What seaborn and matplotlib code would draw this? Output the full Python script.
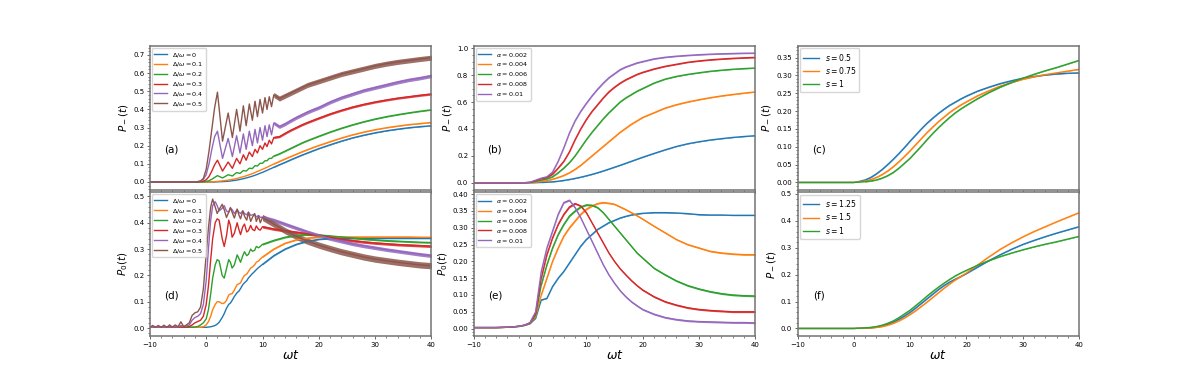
import numpy as np
import seaborn as sns
import matplotlib.pyplot as plt
from matplotlib.ticker import MultipleLocator, AutoMinorLocator

# ---------------- dados ----------------
# painel (a): P_-(t) para varios Delta/omega
t_a = [-10, -6, -3, -2, -1.5, -1, -0.5, 0, 0.5, 1, 1.5,
       2, 2.9, 3.9, 4.65, 5.4, 6.0, 6.6, 7.1, 7.66, 8.2, 8.67, 9.1, 9.56, 10.0, 10.44, 10.8, 11.2, 11.6, 12,
       13, 14, 15, 16, 17, 18, 19, 20,
       22, 24, 26, 28, 30, 32, 34, 36, 38, 40]
pa_00 = [0, 0, 0, 0, 0, 0, 0, 0, 0, 0, 0,
         0.001, 0.002, 0.004, 0.007, 0.01, 0.014, 0.018, 0.022, 0.027, 0.032, 0.037, 0.042, 0.048, 0.053, 0.059, 0.064, 0.07, 0.075, 0.081,
         0.095, 0.108, 0.122, 0.135, 0.148, 0.16, 0.172, 0.184,
         0.205, 0.225, 0.243, 0.258, 0.271, 0.282, 0.291, 0.299, 0.305, 0.31]
pa_01 = [0, 0, 0, 0, 0, 0, 0, 0, 0, 0.001, 0.002,
         0.003, 0.006, 0.01, 0.014, 0.019, 0.024, 0.029, 0.034, 0.04, 0.046, 0.052, 0.058, 0.064, 0.07, 0.076, 0.081, 0.087, 0.093, 0.099,
         0.113, 0.127, 0.14, 0.153, 0.166, 0.178, 0.19, 0.201,
         0.222, 0.242, 0.26, 0.275, 0.288, 0.299, 0.308, 0.316, 0.322, 0.328]
pa_02 = [0, 0, 0, 0, 0, 0, 0.001, 0.003, 0.007, 0.015, 0.025,
         0.035, 0.022, 0.04, 0.033, 0.052, 0.047, 0.063, 0.06, 0.076, 0.074, 0.09, 0.088, 0.103, 0.103, 0.117, 0.117, 0.13, 0.13, 0.143,
         0.155, 0.17, 0.185, 0.2, 0.215, 0.228, 0.24, 0.252,
         0.275, 0.296, 0.315, 0.332, 0.347, 0.36, 0.371, 0.381, 0.39, 0.398]
pa_03 = [0, 0, 0, 0, 0.001, 0.002, 0.005, 0.012, 0.03, 0.06, 0.095,
         0.12, 0.06, 0.11, 0.075, 0.13, 0.1, 0.15, 0.12, 0.165, 0.14, 0.18, 0.16, 0.2, 0.18, 0.215, 0.195, 0.23, 0.21, 0.245,
         0.25, 0.268, 0.285, 0.3, 0.315, 0.328, 0.34, 0.352,
         0.375, 0.395, 0.413, 0.428, 0.441, 0.452, 0.462, 0.47, 0.478, 0.485]
pa_04 = [0, 0, 0, 0.001, 0.002, 0.005, 0.015, 0.04, 0.1, 0.18, 0.25,
         0.28, 0.13, 0.24, 0.14, 0.255, 0.16, 0.265, 0.18, 0.28, 0.2, 0.29, 0.215, 0.3, 0.23, 0.31, 0.25, 0.315, 0.26, 0.325,
         0.305, 0.32, 0.338, 0.355, 0.37, 0.385, 0.398, 0.41,
         0.44, 0.465, 0.485, 0.505, 0.52, 0.535, 0.55, 0.563, 0.573, 0.585]
pa_05 = [0, 0, 0, 0, 0.002, 0.005, 0.02, 0.07, 0.17, 0.29, 0.41,
         0.495, 0.225, 0.38, 0.245, 0.4, 0.28, 0.42, 0.31, 0.43, 0.34, 0.445, 0.36, 0.455, 0.38, 0.465, 0.4, 0.47, 0.415, 0.48,
         0.46, 0.475, 0.49, 0.505, 0.52, 0.535, 0.545, 0.555,
         0.575, 0.595, 0.61, 0.625, 0.64, 0.652, 0.662, 0.67, 0.678, 0.685]
amp_a = [0.002, 0.002, 0.003, 0.006, 0.01, 0.014]   # meia largura da oscilacao rapida (t >= 12)

# painel (d): P_0(t) para varios Delta/omega
t_d = [-10, -9.5, -9, -8.5, -8, -7.5, -7, -6.5, -6, -5.5, -5, -4.5, -4, -3.5, -3, -2.5, -2, -1.5, -1, -0.5, 0,
       0.4, 0.8, 1.15, 1.6, 1.95, 2.3, 2.84, 3.2, 3.6, 4.0, 4.3, 4.6, 5.0, 5.5, 5.8, 6.1, 6.5, 6.8, 7.2, 7.5,
       7.9, 8.2, 8.6, 8.9, 9.3, 9.6, 10,
       12, 14, 16, 18, 20, 22, 24, 26, 28, 30, 32, 34, 36, 38, 40]
pd_00 = [0.003] * 21 + [
    0.004, 0.005, 0.007, 0.01, 0.015, 0.022, 0.04, 0.055, 0.075, 0.09, 0.095, 0.105, 0.12, 0.135, 0.14, 0.15,
    0.165, 0.172, 0.18, 0.19, 0.2, 0.207, 0.215, 0.222, 0.23, 0.235, 0.242,
    0.275, 0.3, 0.318, 0.33, 0.337, 0.34, 0.341, 0.341, 0.341, 0.341, 0.341, 0.341, 0.341, 0.341, 0.341]
pd_01 = [0.003] * 19 + [0.005, 0.012,
    0.025, 0.045, 0.07, 0.09, 0.1, 0.1, 0.093, 0.095, 0.105, 0.125, 0.13, 0.13, 0.145, 0.165, 0.168, 0.172,
    0.19, 0.2, 0.205, 0.215, 0.228, 0.232, 0.24, 0.25, 0.255, 0.262, 0.27,
    0.3, 0.322, 0.335, 0.342, 0.345, 0.346, 0.346, 0.346, 0.346, 0.346, 0.346, 0.346, 0.346, 0.345, 0.345]
pd_02 = [0.003] * 16 + [0.004, 0.006, 0.012, 0.02, 0.035,
    0.07, 0.13, 0.19, 0.24, 0.26, 0.255, 0.2, 0.19, 0.225, 0.26, 0.25, 0.228, 0.24, 0.278, 0.265, 0.25,
    0.275, 0.29, 0.275, 0.28, 0.3, 0.292, 0.295, 0.31, 0.305, 0.31, 0.318,
    0.333, 0.345, 0.352, 0.355, 0.354, 0.35, 0.346, 0.342, 0.338, 0.335, 0.332, 0.33, 0.328, 0.326, 0.325]
pd_03 = [0.003] * 11 + [0.005, 0.003, 0.004, 0.006, 0.012, 0.02, 0.025, 0.03, 0.045, 0.09,
    0.16, 0.26, 0.34, 0.4, 0.415, 0.41, 0.34, 0.31, 0.35, 0.41, 0.39, 0.345, 0.36, 0.4, 0.375, 0.355,
    0.385, 0.395, 0.365, 0.37, 0.39, 0.375, 0.37, 0.388, 0.375, 0.372, 0.385,
    0.376, 0.37, 0.364, 0.358, 0.352, 0.345, 0.338, 0.332, 0.327, 0.323, 0.32, 0.317, 0.315, 0.313, 0.311]
pd_04 = [0.003, 0.004, 0.003, 0.004, 0.003, 0.004, 0.003, 0.005, 0.004, 0.005, 0.004, 0.01, 0.006, 0.008,
         0.012, 0.03, 0.04, 0.045, 0.055, 0.09, 0.18,
         0.3, 0.41, 0.465, 0.48, 0.465, 0.445, 0.455, 0.465, 0.445, 0.44, 0.455, 0.45, 0.435, 0.45, 0.44, 0.435,
         0.445, 0.435, 0.43, 0.44, 0.428, 0.43, 0.432, 0.422, 0.428, 0.42, 0.422,
         0.41, 0.395, 0.38, 0.365, 0.352, 0.34, 0.33, 0.32, 0.312, 0.305, 0.298, 0.292, 0.286, 0.28, 0.275]
pd_05 = [0.003, 0.01, 0.003, 0.01, 0.003, 0.011, 0.003, 0.012, 0.004, 0.012, 0.005, 0.024, 0.006, 0.012,
         0.02, 0.048, 0.058, 0.062, 0.08, 0.15, 0.28,
         0.38, 0.46, 0.49, 0.46, 0.435, 0.45, 0.47, 0.45, 0.42, 0.44, 0.458, 0.44, 0.418, 0.452, 0.43, 0.415,
         0.445, 0.425, 0.41, 0.44, 0.405, 0.42, 0.435, 0.405, 0.425, 0.4, 0.42,
         0.395, 0.37, 0.348, 0.33, 0.315, 0.302, 0.29, 0.28, 0.27, 0.262, 0.256, 0.25, 0.245, 0.24, 0.237]
amp_d = [0.002, 0.002, 0.003, 0.005, 0.007, 0.012]   # t >= 10

lab_delta = [r'$\Delta/\omega=0$', r'$\Delta/\omega=0.1$', r'$\Delta/\omega=0.2$',
             r'$\Delta/\omega=0.3$', r'$\Delta/\omega=0.4$', r'$\Delta/\omega=0.5$']

# paineis (b), (c), (e), (f) usam a mesma grade de tempo
t_bc = [-10, -6, -4, -3, -2, -1,
        0, 1, 2, 3, 4, 5, 6, 7, 8, 9, 10, 11, 12, 13, 14, 15, 16, 17, 18, 19, 20,
        22, 24, 26, 28, 30, 32, 34, 36, 38, 40]

# painel (b): P_-(t) para varios alpha
pb_002 = [0, 0, 0, 0, 0, 0,
          0, 0.001, 0.003, 0.005, 0.008, 0.012, 0.018, 0.025, 0.033, 0.042, 0.052, 0.063, 0.075, 0.088, 0.102,
          0.116, 0.13, 0.145, 0.16, 0.175, 0.19,
          0.218, 0.245, 0.27, 0.29, 0.305, 0.318, 0.328, 0.337, 0.344, 0.35]
pb_004 = [0, 0, 0, 0, 0, 0,
          0.001, 0.004, 0.01, 0.017, 0.027, 0.04, 0.055, 0.075, 0.1, 0.13, 0.165, 0.2, 0.235, 0.27, 0.305,
          0.34, 0.375, 0.405, 0.435, 0.46, 0.485,
          0.52, 0.555, 0.58, 0.6, 0.617, 0.632, 0.645, 0.656, 0.666, 0.675]
pb_006 = [0, 0, 0, 0, 0, 0,
          0.003, 0.01, 0.02, 0.03, 0.045, 0.075, 0.11, 0.15, 0.2, 0.26, 0.32, 0.375, 0.425, 0.475, 0.52,
          0.56, 0.6, 0.63, 0.655, 0.68, 0.7,
          0.74, 0.77, 0.79, 0.805, 0.817, 0.828, 0.836, 0.843, 0.848, 0.852]
pb_008 = [0, 0, 0, 0, 0, 0.001,
          0.004, 0.015, 0.03, 0.04, 0.065, 0.11, 0.16, 0.23, 0.32, 0.4, 0.47, 0.53, 0.58, 0.63, 0.675,
          0.71, 0.74, 0.765, 0.785, 0.805, 0.82,
          0.845, 0.865, 0.88, 0.895, 0.905, 0.913, 0.919, 0.924, 0.928, 0.931]
pb_010 = [0, 0, 0, 0, 0, 0.001,
          0.005, 0.02, 0.035, 0.045, 0.08, 0.16, 0.26, 0.37, 0.46, 0.53, 0.59, 0.645, 0.695, 0.74, 0.78,
          0.81, 0.84, 0.86, 0.875, 0.89, 0.9,
          0.92, 0.932, 0.94, 0.946, 0.951, 0.955, 0.958, 0.96, 0.962, 0.963]
amp_b = [0.002, 0.003, 0.003, 0.004, 0.004]

# painel (e): P_0(t) para varios alpha
pe_002 = [0.003, 0.003, 0.004, 0.005, 0.006, 0.009,
          0.014, 0.03, 0.085, 0.09, 0.125, 0.15, 0.17, 0.195, 0.22, 0.245, 0.265, 0.28, 0.295, 0.305, 0.315,
          0.322, 0.329, 0.334, 0.338, 0.341, 0.343,
          0.345, 0.345, 0.344, 0.342, 0.339, 0.338, 0.338, 0.337, 0.337, 0.337]
pe_004 = [0.003, 0.003, 0.004, 0.005, 0.007, 0.01,
          0.015, 0.035, 0.1, 0.15, 0.2, 0.24, 0.275, 0.3, 0.32, 0.34, 0.355, 0.365, 0.372, 0.375, 0.373,
          0.37, 0.362, 0.354, 0.345, 0.336, 0.326,
          0.305, 0.285, 0.265, 0.25, 0.24, 0.23, 0.225, 0.222, 0.22, 0.22]
pe_006 = [0.003, 0.003, 0.004, 0.005, 0.007, 0.01,
          0.016, 0.04, 0.13, 0.19, 0.24, 0.28, 0.31, 0.335, 0.35, 0.362, 0.368, 0.367, 0.36, 0.345, 0.325,
          0.305, 0.285, 0.265, 0.245, 0.225, 0.21,
          0.18, 0.16, 0.142, 0.128, 0.118, 0.11, 0.104, 0.1, 0.098, 0.097]
pe_008 = [0.003, 0.003, 0.004, 0.005, 0.007, 0.01,
          0.017, 0.045, 0.15, 0.22, 0.27, 0.31, 0.34, 0.362, 0.372, 0.365, 0.345, 0.315, 0.285, 0.255, 0.225,
          0.2, 0.178, 0.16, 0.143, 0.128, 0.115,
          0.095, 0.08, 0.07, 0.062, 0.057, 0.054, 0.052, 0.05, 0.05, 0.05]
pe_010 = [0.003, 0.003, 0.004, 0.005, 0.007, 0.01,
          0.018, 0.05, 0.17, 0.24, 0.29, 0.34, 0.375, 0.382, 0.36, 0.33, 0.295, 0.26, 0.225, 0.19, 0.16,
          0.135, 0.113, 0.095, 0.08, 0.068, 0.057,
          0.043, 0.033, 0.027, 0.023, 0.021, 0.02, 0.019, 0.018, 0.018, 0.017]
amp_e = [0.001, 0.002, 0.0025, 0.0025, 0.0025]

lab_alpha = [r'$\alpha=0.002$', r'$\alpha=0.004$', r'$\alpha=0.006$', r'$\alpha=0.008$', r'$\alpha=0.01$']

# paineis (c) e (f): P_-(t) para varios s
ps_050 = [0, 0, 0, 0, 0, 0,
          0, 0.003, 0.007, 0.014, 0.024, 0.036, 0.05, 0.065, 0.081, 0.098, 0.116, 0.133, 0.15, 0.166, 0.18,
          0.193, 0.205, 0.216, 0.225, 0.234, 0.242,
          0.256, 0.267, 0.277, 0.285, 0.292, 0.297, 0.301, 0.304, 0.306, 0.307]
ps_075 = [0, 0, 0, 0, 0, 0,
          0, 0.002, 0.004, 0.008, 0.014, 0.022, 0.032, 0.044, 0.058, 0.073, 0.089, 0.106, 0.123, 0.14, 0.155,
          0.17, 0.183, 0.196, 0.207, 0.217, 0.226,
          0.243, 0.257, 0.27, 0.28, 0.289, 0.296, 0.302, 0.307, 0.312, 0.317]
ps_100 = [0, 0, 0, 0, 0, 0,
          0, 0.001, 0.002, 0.004, 0.007, 0.012, 0.019, 0.028, 0.04, 0.054, 0.068, 0.085, 0.102, 0.12, 0.137,
          0.153, 0.168, 0.182, 0.195, 0.206, 0.216,
          0.235, 0.252, 0.267, 0.28, 0.292, 0.303, 0.313, 0.322, 0.332, 0.342]
ps_125 = [0, 0, 0, 0, 0, 0,
          0, 0.001, 0.002, 0.003, 0.005, 0.009, 0.015, 0.023, 0.034, 0.046, 0.06, 0.076, 0.093, 0.11, 0.127,
          0.144, 0.159, 0.172, 0.183, 0.193, 0.204,
          0.228, 0.252, 0.274, 0.294, 0.312, 0.327, 0.341, 0.354, 0.366, 0.378]
ps_150 = [0, 0, 0, 0, 0, 0,
          0, 0.001, 0.001, 0.002, 0.004, 0.007, 0.012, 0.019, 0.028, 0.039, 0.052, 0.066, 0.082, 0.098, 0.115,
          0.132, 0.149, 0.165, 0.18, 0.193, 0.206,
          0.236, 0.266, 0.294, 0.318, 0.34, 0.36, 0.378, 0.396, 0.413, 0.43]
amp_s = [0.001, 0.001, 0.001]

# ---------------- figura ----------------
cores = sns.color_palette('tab10')
plt.rcParams['font.family'] = ['DejaVu Sans']
plt.rcParams['mathtext.fontset'] = 'dejavusans'

fig, axes = plt.subplots(2, 3, figsize=(11.99, 3.84), dpi=100, sharex=True)
fig.subplots_adjust(left=0.125, right=0.9, top=0.88, bottom=0.125, wspace=0.15, hspace=0.02)


def desenha(ax, t, curvas, rotulos, amps, t_faixa, cols, leg_fs):
    t = np.asarray(t, dtype=float)
    faixa = t >= t_faixa
    for y, lab, amp, c in zip(curvas, rotulos, amps, cols):
        y = np.asarray(y, dtype=float)
        ax.fill_between(t[faixa], y[faixa] - amp, y[faixa] + amp, color=c, alpha=0.85, lw=0)
        sns.lineplot(x=t, y=y, ax=ax, color=c, lw=1.0, label=lab)
    ax.legend(loc='upper left', fontsize=leg_fs, labelspacing=0.3, handlelength=2.0,
              borderpad=0.4, borderaxespad=0.3)


desenha(axes[0, 0], t_a, [pa_00, pa_01, pa_02, pa_03, pa_04, pa_05], lab_delta, amp_a, 12, cores[:6], 4.6)
desenha(axes[1, 0], t_d, [pd_00, pd_01, pd_02, pd_03, pd_04, pd_05], lab_delta, amp_d, 10, cores[:6], 4.6)
desenha(axes[0, 1], t_bc, [pb_002, pb_004, pb_006, pb_008, pb_010], lab_alpha, amp_b, 2, cores[:5], 4.6)
desenha(axes[1, 1], t_bc, [pe_002, pe_004, pe_006, pe_008, pe_010], lab_alpha, amp_e, 2, cores[:5], 4.6)
desenha(axes[0, 2], t_bc, [ps_050, ps_075, ps_100], [r'$s=0.5$', r'$s=0.75$', r'$s=1$'],
        amp_s, 2, cores[:3], 5.6)
desenha(axes[1, 2], t_bc, [ps_125, ps_150, ps_100], [r'$s=1.25$', r'$s=1.5$', r'$s=1$'],
        amp_s, 2, cores[:3], 5.6)

limites = {(0, 0): (-0.042, 0.749, 0.1), (0, 1): (-0.05, 1.015, 0.2), (0, 2): (-0.02, 0.382, 0.05),
           (1, 0): (-0.03, 0.515, 0.1), (1, 1): (-0.022, 0.405, 0.05), (1, 2): (-0.028, 0.505, 0.1)}
ylabels = {(0, 0): r'$P_-(t)$', (0, 1): r'$P_-(t)$', (0, 2): r'$P_-(t)$',
           (1, 0): r'$P_0(t)$', (1, 1): r'$P_0(t)$', (1, 2): r'$P_-(t)$'}
letras = {(0, 0): '(a)', (0, 1): '(b)', (0, 2): '(c)', (1, 0): '(d)', (1, 1): '(e)', (1, 2): '(f)'}

for (i, j), (y0, y1, passo) in limites.items():
    ax = axes[i, j]
    ax.set_xlim(-10, 40)
    ax.set_ylim(y0, y1)
    ax.xaxis.set_major_locator(MultipleLocator(10))
    ax.xaxis.set_minor_locator(AutoMinorLocator(5))
    ax.yaxis.set_major_locator(MultipleLocator(passo))
    ax.yaxis.set_minor_locator(AutoMinorLocator())
    ax.tick_params(which='major', labelsize=5, length=2.5, width=0.6, pad=1.5, color='0.3')
    ax.tick_params(which='minor', length=1.3, width=0.5, color='0.3')
    for sp in ax.spines.values():
        sp.set_color('0.45')
        sp.set_linewidth(1.1)
    ax.set_ylabel(ylabels[(i, j)], fontsize=7.5, labelpad=2)
    ax.set_xlabel(r'$\omega t$' if i == 1 else '', fontsize=9, labelpad=1)
    ax.text(0.075, 0.28, letras[(i, j)], transform=ax.transAxes, fontsize=7.5,
            ha='center', va='center')

plt.savefig('out.png', dpi=100)
